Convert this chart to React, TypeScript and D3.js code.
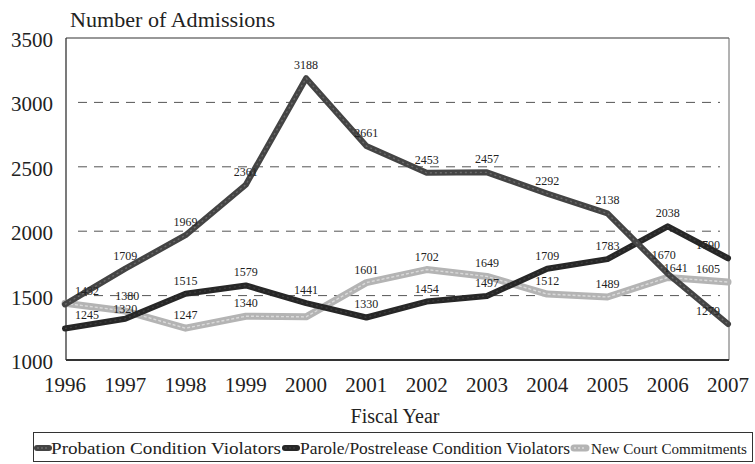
import React from "react";
import * as d3 from "d3";

// Fiscal years on the x axis
const years = [1996, 1997, 1998, 1999, 2000, 2001, 2002, 2003, 2004, 2005, 2006, 2007];

// Admissions per series
const probation = [1432, 1709, 1969, 2361, 3188, 2661, 2453, 2457, 2292, 2138, 1670, 1279];
const parole = [1245, 1320, 1515, 1579, 1441, 1330, 1454, 1497, 1709, 1783, 2038, 1790];
const newCourt = [1440, 1380, 1247, 1340, 1335, 1601, 1702, 1649, 1512, 1489, 1641, 1605];

// Which points carry a value label
const probationLabeled = [true, true, true, true, true, true, true, true, true, true, true, true];
const paroleLabeled = [true, true, true, true, true, true, true, true, true, true, true, true];
const newCourtLabeled = [false, true, true, true, false, true, true, true, true, true, true, true];

const yTicks = [1000, 1500, 2000, 2500, 3000, 3500];
const gridTicks = [1500, 2000, 2500, 3000];

const legendLabels = [
  "Probation Condition Violators",
  "Parole/Postrelease Condition Violators",
  "New Court Commitments",
];

const W = 755;
const H = 464;
const plot = { left: 66, right: 729, top: 38, bottom: 360 };

const SERIF = "Liberation Serif";

type Series = {
  name: string;
  values: number[];
  labeled: boolean[];
  color: string;
  width: number;
  grain: string;
  grainDash: string;
  // small label nudges where points crowd together
  nudge: Record<number, [number, number]>;
};

const series: Series[] = [
  {
    name: legendLabels[2], values: newCourt, labeled: newCourtLabeled, color: "#b4b4b4", width: 7,
    grain: "#dadada", grainDash: "3,2", nudge: { 1: [2, -2], 10: [8, 4] },
  },
  {
    name: legendLabels[1], values: parole, labeled: paroleLabeled, color: "#272727", width: 6,
    grain: "#3d3d3d", grainDash: "2,3", nudge: { 1: [0, 3] },
  },
  {
    name: legendLabels[0], values: probation, labeled: probationLabeled, color: "#444444", width: 6,
    grain: "#6a6a6a", grainDash: "2,3", nudge: { 10: [-4, -6] },
  },
];

export default function App() {
  const x = d3.scalePoint<number>().domain(years).range([65, 728]);
  const y = d3.scaleLinear().domain([1000, 3500]).range([plot.bottom, plot.top]);

  const line = d3
    .line<number>()
    .x((_, i) => x(years[i]) as number)
    .y((d) => y(d))
    .curve(d3.curveLinear);

  const labelDx = (i: number) => (i === 0 ? 22 : i === years.length - 1 ? -20 : 0);

  // legend layout: swatch start, text start, text length, font size
  const legendItems = [
    { sx: 37, tx: 51, len: 230, fs: 16, color: "#444444", grain: "#6a6a6a", width: 6 },
    { sx: 285, tx: 300, len: 270, fs: 16, color: "#272727", grain: "#3d3d3d", width: 6 },
    { sx: 574, tx: 591, len: 156, fs: 15, color: "#b4b4b4", grain: "#dadada", width: 7 },
  ];

  return (
    <svg
      width={W}
      height={H}
      viewBox={`0 0 ${W} ${H}`}
      style={{ position: "absolute", left: 0, top: 0, background: "#fff" }}
    >
      <rect x={0} y={0} width={W} height={H} fill="#fff" />

      {/* axis title */}
      <text x={70} y={27} fontSize={20} fill="#222" style={{ fontFamily: SERIF }} textLength={205} lengthAdjust="spacingAndGlyphs">
        Number of Admissions
      </text>

      {/* dashed gridlines */}
      {gridTicks.map((t) => (
        <line key={`g${t}`} x1={78} x2={720} y1={y(t)} y2={y(t)} stroke="#555" strokeWidth={1} strokeDasharray="9,7" />
      ))}

      {/* plot frame */}
      <line x1={plot.left} x2={plot.right} y1={plot.top} y2={plot.top} stroke="#333" strokeWidth={1.2} />
      <line x1={plot.right} x2={plot.right} y1={plot.top} y2={plot.bottom} stroke="#666" strokeWidth={1} />
      <line x1={plot.left} x2={plot.left} y1={plot.top} y2={plot.bottom} stroke="#333" strokeWidth={1.3} />
      <line x1={plot.left} x2={plot.right} y1={plot.bottom} y2={plot.bottom} stroke="#333" strokeWidth={2} />

      {/* y tick labels */}
      {yTicks.map((t) => (
        <text key={`y${t}`} x={53} y={y(t) + 9} fontSize={21} textAnchor="end" fill="#222" style={{ fontFamily: SERIF }}>
          {t}
        </text>
      ))}

      {/* x tick labels */}
      {years.map((yr) => (
        <text key={`x${yr}`} x={x(yr) as number} y={392} fontSize={21} textAnchor="middle" fill="#222" style={{ fontFamily: SERIF }}>
          {yr}
        </text>
      ))}

      <text x={395} y={423} fontSize={20} textAnchor="middle" fill="#222" style={{ fontFamily: SERIF }}>
        Fiscal Year
      </text>

      {/* series lines */}
      {series.map((s) => (
        <g key={s.name}>
          <path d={line(s.values) || ""} fill="none" stroke={s.color} strokeWidth={s.width} strokeLinejoin="round" strokeLinecap="round" />
          <path d={line(s.values) || ""} fill="none" stroke={s.grain} strokeWidth={1.4} strokeDasharray={s.grainDash} />
        </g>
      ))}

      {/* value labels */}
      {series.map((s) =>
        s.values.map((v, i) => {
          if (!s.labeled[i]) return null;
          const [nx, ny] = s.nudge[i] || [0, 0];
          return (
            <text
              key={`${s.name}-${i}`}
              x={(x(years[i]) as number) + labelDx(i) + nx}
              y={y(v) - 9 + ny}
              fontSize={12}
              textAnchor="middle"
              fill="#222"
              style={{ fontFamily: SERIF }}
            >
              {v}
            </text>
          );
        })
      )}

      {/* legend */}
      <rect x={33.5} y={432.5} width={719} height={29} fill="none" stroke="#333" strokeWidth={1} />
      {legendItems.map((it, i) => (
        <g key={`l${i}`}>
          <line x1={it.sx} x2={it.sx + 12} y1={448} y2={448} stroke={it.color} strokeWidth={it.width} strokeLinecap="round" />
          <line x1={it.sx} x2={it.sx + 12} y1={448} y2={448} stroke={it.grain} strokeWidth={1.4} strokeDasharray="2,2" />
          <text x={it.tx} y={454} fontSize={it.fs} fill="#222" style={{ fontFamily: SERIF }} textLength={it.len} lengthAdjust="spacingAndGlyphs">
            {legendLabels[i]}
          </text>
        </g>
      ))}
    </svg>
  );
}
